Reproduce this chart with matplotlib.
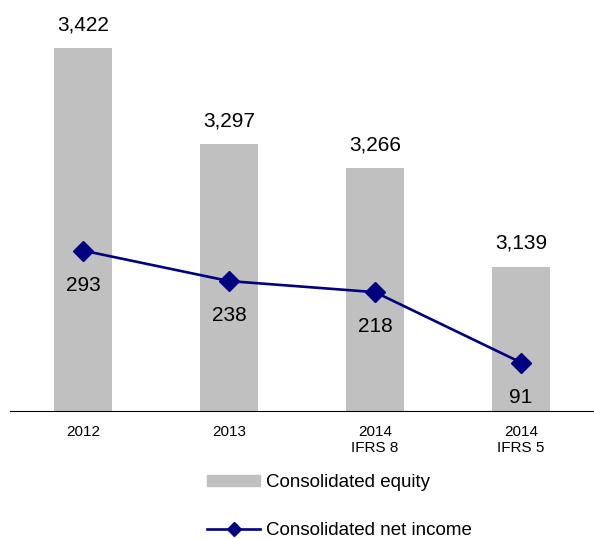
import matplotlib.pyplot as plt
from matplotlib.patches import Patch
from matplotlib.lines import Line2D

plt.rcParams['font.family'] = ['Liberation Sans', 'DejaVu Sans']

years = ['2012', '2013', '2014\nIFRS 8', '2014\nIFRS 5']
equity = [3422, 3297, 3266, 3139]
net_income = [293, 238, 218, 91]

bar_color = '#c0c0c0'
line_color = '#000080'

fig = plt.figure(figsize=(5.94, 5.39), dpi=100)
ax = fig.add_axes([10 / 594, 128 / 539, 1 - 10 / 594, 411 / 539])
x = range(len(years))

ax.bar(x, equity, width=0.4, color=bar_color, zorder=1)
ax.set_xlim(-0.5, 3.5)
ax.set_ylim(2952, 3484)
for xi, v in zip(x, equity):
    ax.annotate(f'{v:,}', (xi, v), xytext=(0, 10), textcoords='offset points',
                ha='center', va='bottom', fontsize=15)

# net income on its own scale
ax2 = ax.twinx()
ax2.plot(x, net_income, color=line_color, lw=1.9, marker='D', ms=10, zorder=3)
ax2.set_ylim(3.6, 745)
for xi, v in zip(x, net_income):
    ax2.annotate(f'{v}', (xi, v), xytext=(0, -25), textcoords='offset points',
                 ha='center', va='center', fontsize=15)

for a in (ax, ax2):
    for s in ('top', 'left', 'right'):
        a.spines[s].set_visible(False)
    a.set_yticks([])
ax2.spines['bottom'].set_visible(False)
ax.spines['bottom'].set_color('black')
ax.set_xticks(list(x))
ax.set_xticklabels(years, fontsize=11)
ax.tick_params(axis='x', length=0, pad=10)

handles = [Patch(color=bar_color),
           Line2D([], [], color=line_color, lw=1.9, marker='D', ms=7)]
fig.legend(handles, ['Consolidated equity', 'Consolidated net income'],
           loc='upper left', bbox_to_anchor=(207 / 594, 1 - 474 / 539),
           frameon=False, fontsize=13.5, handlelength=2.85, handleheight=0.48,
           handletextpad=0.27, labelspacing=1.65, borderpad=0, borderaxespad=0)

fig.savefig('out.png', dpi=100)
